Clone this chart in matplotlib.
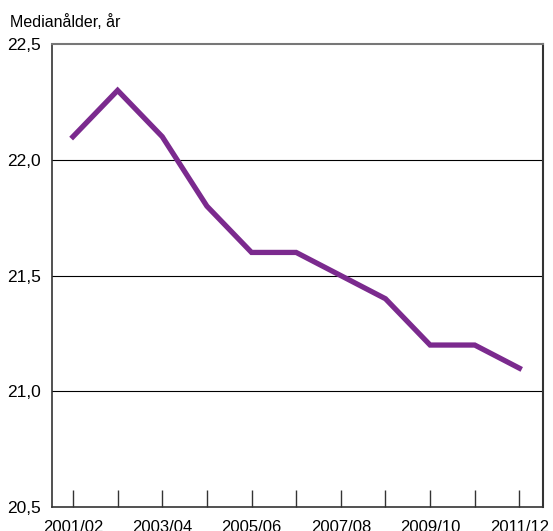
import matplotlib.pyplot as plt

years = ["2001/02", "2002/03", "2003/04", "2004/05", "2005/06", "2006/07",
         "2007/08", "2008/09", "2009/10", "2010/11", "2011/12"]
median_age = [22.1, 22.3, 22.1, 21.8, 21.6, 21.6, 21.5, 21.4, 21.2, 21.2, 21.1]
y_ticks = [20.5, 21.0, 21.5, 22.0, 22.5]

plt.rcParams["font.family"] = ["Liberation Sans", "DejaVu Sans"]

fig = plt.figure(figsize=(5.53, 5.31), dpi=100)
ax = fig.add_axes([0.094, 0.045, 0.888, 0.872])

x = list(range(len(years)))
for yv in y_ticks[1:-1]:
    ax.axhline(yv, color="black", linewidth=0.8, zorder=1)
ax.plot(x, median_age, color="#7b2a8e", linewidth=3.8, solid_joinstyle="miter", zorder=3)

ax.set_xlim(-0.47, 10.53)
ax.set_ylim(20.5, 22.5)
ax.set_xticks(x)
ax.set_xticklabels([lbl if i % 2 == 0 else "" for i, lbl in enumerate(years)])
ax.set_yticks(y_ticks)
ax.set_yticklabels([f"{v:.1f}".replace(".", ",") for v in y_ticks])

ax.tick_params(axis="x", direction="in", length=12, width=1, color="#333333",
               labelsize=12, pad=9)
ax.tick_params(axis="y", length=0, labelsize=12.5, pad=8)

for side in ["left", "bottom"]:
    ax.spines[side].set_color("#333333")
    ax.spines[side].set_linewidth(1.2)
ax.spines["top"].set_color("#777777")
ax.spines["top"].set_linewidth(1.5)
ax.spines["right"].set_color("#333333")
ax.spines["right"].set_linewidth(1.5)

fig.text(0.018, 0.959, "Medianålder, år", fontsize=11.5, ha="left", va="center")

fig.savefig("out.png", dpi=100)
